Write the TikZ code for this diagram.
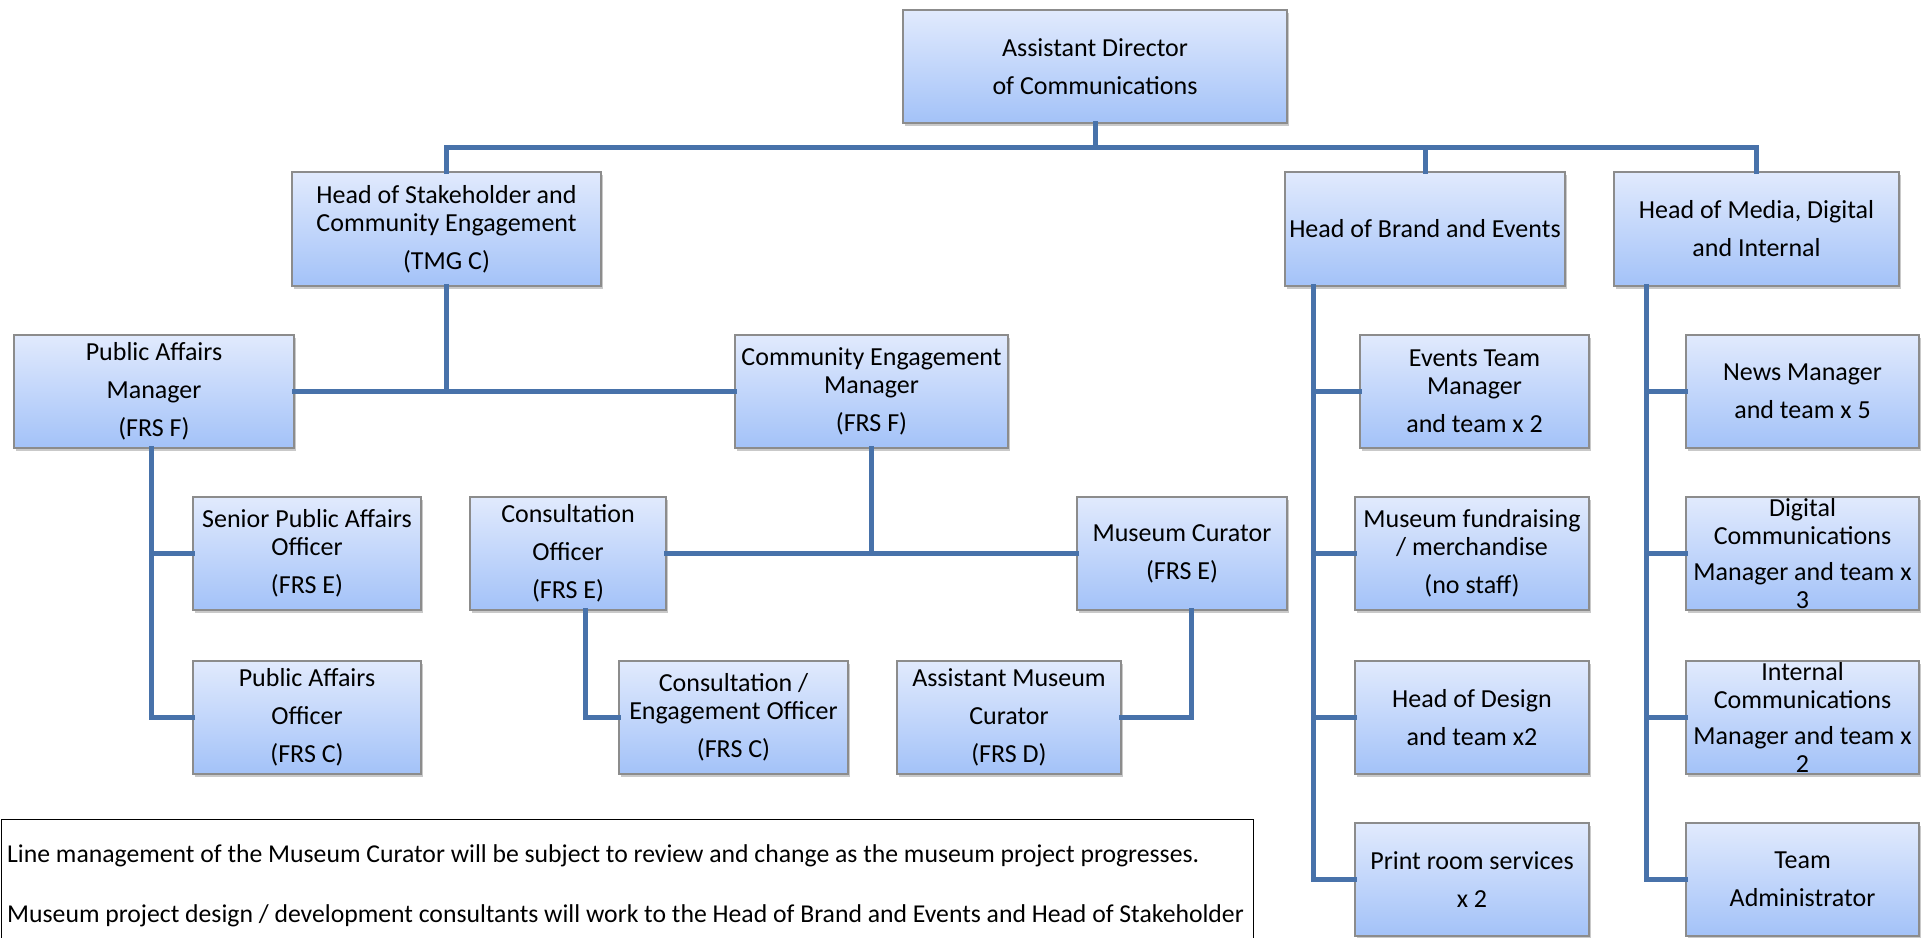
\documentclass[tikz,border=0pt]{standalone}
\usepackage{fontspec}
\setmainfont{Carlito}
\usetikzlibrary{shadows}
\definecolor{gtop}{RGB}{225,234,253}
\definecolor{gbot}{RGB}{163,194,248}
\definecolor{bgray}{RGB}{140,140,140}
\definecolor{conncol}{RGB}{72,114,170}
\tikzset{
  orgbox/.style={draw=bgray, line width=1.3pt, top color=gtop, bottom color=gbot,
    inner sep=0pt, align=center, font=\fontsize{26}{28}\selectfont,
    drop shadow={shadow xshift=2pt, shadow yshift=-3pt, opacity=0.35, fill=black!60}},
  conn/.style={draw=conncol, line width=5pt, line cap=rect, line join=miter},
  notetext/.style={anchor=west, inner sep=0pt, font=\fontsize{25.7}{28}\selectfont},
}
\newcommand{\obox}[6]{%
  \node[orgbox, minimum width={#4-#2}, minimum height={#5-#3}] (#1) at ({(#2+#4)/2},{(#3+#5)/2}) {#6};}
\begin{document}
\begin{tikzpicture}[x=1pt,y=-1pt]
\useasboundingbox (0,0) rectangle (1926,937);
\clip (0,0) rectangle (1926,937);
\fill[white] (0,0) rectangle (1926,937);
\coordinate (bus1) at (0,147);
\obox{top}{903}{10}{1287}{123}{Assistant Director\\[10pt]of Communications}
\obox{hsce}{292}{172}{601}{286}{Head of Stakeholder and\\Community Engagement\\[10pt](TMG C)}
\obox{hbe}{1285}{172}{1565}{286}{Head of Brand and Events}
\obox{hmdi}{1614}{172}{1899}{286}{Head of Media, Digital\\[10pt]and Internal}
\obox{pam}{14}{335}{294}{448}{Public Affairs\\[10pt]Manager\\[10pt](FRS F)}
\obox{cem}{735}{335}{1008}{448}{Community Engagement\\Manager\\[10pt](FRS F)}
\obox{spao}{193}{497}{421}{610}{Senior Public Affairs\\Officer\\[10pt](FRS E)}
\obox{pao}{193}{661}{421}{774}{Public Affairs\\[10pt]Officer\\[10pt](FRS C)}
\obox{co}{470}{497}{666}{610}{Consultation\\[10pt]Officer\\[10pt](FRS E)}
\obox{mc}{1077}{497}{1287}{610}{Museum Curator\\[10pt](FRS E)}
\obox{ceo}{619}{661}{848}{774}{Consultation /\\Engagement Officer\\[10pt](FRS C)}
\obox{amc}{897}{661}{1121}{774}{Assistant Museum\\[10pt]Curator\\[10pt](FRS D)}
\obox{etm}{1360}{335}{1589}{448}{Events Team\\Manager\\[10pt]and team x 2}
\obox{mf}{1355}{497}{1589}{610}{Museum fundraising\\/ merchandise\\[10pt](no staff)}
\obox{hd}{1355}{661}{1589}{774}{Head of Design\\[10pt]and team x2}
\obox{prs}{1355}{823}{1589}{936}{Print room services\\[10pt]x 2}
\obox{nm}{1686}{335}{1919}{448}{News Manager\\[10pt]and team x 5}
\obox{dcm}{1686}{497}{1919}{610}{Digital\\Communications\\[8pt]Manager and team x\\3}
\obox{icm}{1686}{661}{1919}{774}{Internal\\Communications\\[8pt]Manager and team x\\2}
\obox{ta}{1686}{823}{1919}{936}{Team\\[10pt]Administrator}
% top level
\draw[conn] (top.south) -- (top.south |- bus1);
\draw[conn] (hsce.north |- bus1) -- (hmdi.north |- bus1);
\draw[conn] (hsce.north |- bus1) -- (hsce.north);
\draw[conn] (hbe.north |- bus1) -- (hbe.north);
\draw[conn] (hmdi.north |- bus1) -- (hmdi.north);
% stakeholder branch
\draw[conn] (hsce.south) -- (hsce.south |- pam.east);
\draw[conn] (pam.east) -- (cem.west);
\coordinate (pamd) at ([xshift=-3pt]pam.south);
\draw[conn] (pamd) -- (pamd |- pao.west) -- (pao.west);
\draw[conn] (pamd |- spao.west) -- (spao.west);
\draw[conn] (cem.south) -- (cem.south |- co.east);
\draw[conn] (co.east) -- (mc.west);
\coordinate (cod) at ([xshift=17pt]co.south);
\draw[conn] (cod) -- (cod |- ceo.west) -- (ceo.west);
\coordinate (mcd) at ([xshift=9pt]mc.south);
\draw[conn] (mcd) -- (mcd |- amc.east) -- (amc.east);
% brand branch
\coordinate (hbed) at ([xshift=-112pt]hbe.south);
\draw[conn] (hbed) -- (hbed |- prs.west) -- (prs.west);
\draw[conn] (hbed |- etm.west) -- (etm.west);
\draw[conn] (hbed |- mf.west) -- (mf.west);
\draw[conn] (hbed |- hd.west) -- (hd.west);
% media branch
\coordinate (hmdid) at ([xshift=-110pt]hmdi.south);
\draw[conn] (hmdid) -- (hmdid |- ta.west) -- (ta.west);
\draw[conn] (hmdid |- nm.west) -- (nm.west);
\draw[conn] (hmdid |- dcm.west) -- (dcm.west);
\draw[conn] (hmdid |- icm.west) -- (icm.west);
% note
\node[draw=black, line width=1.3pt, fill=white, anchor=north west, minimum width=1252pt, minimum height=140pt, inner sep=0pt] (notebox) at (1,819) {};
\node[notetext] (note1) at (7,856) {Line management of the Museum Curator will be subject to review and change as the museum project progresses.};
\node[notetext] (note2) at (7,916) {Museum project design / development consultants will work to the Head of Brand and Events and Head of Stakeholder};
\end{tikzpicture}
\end{document}
